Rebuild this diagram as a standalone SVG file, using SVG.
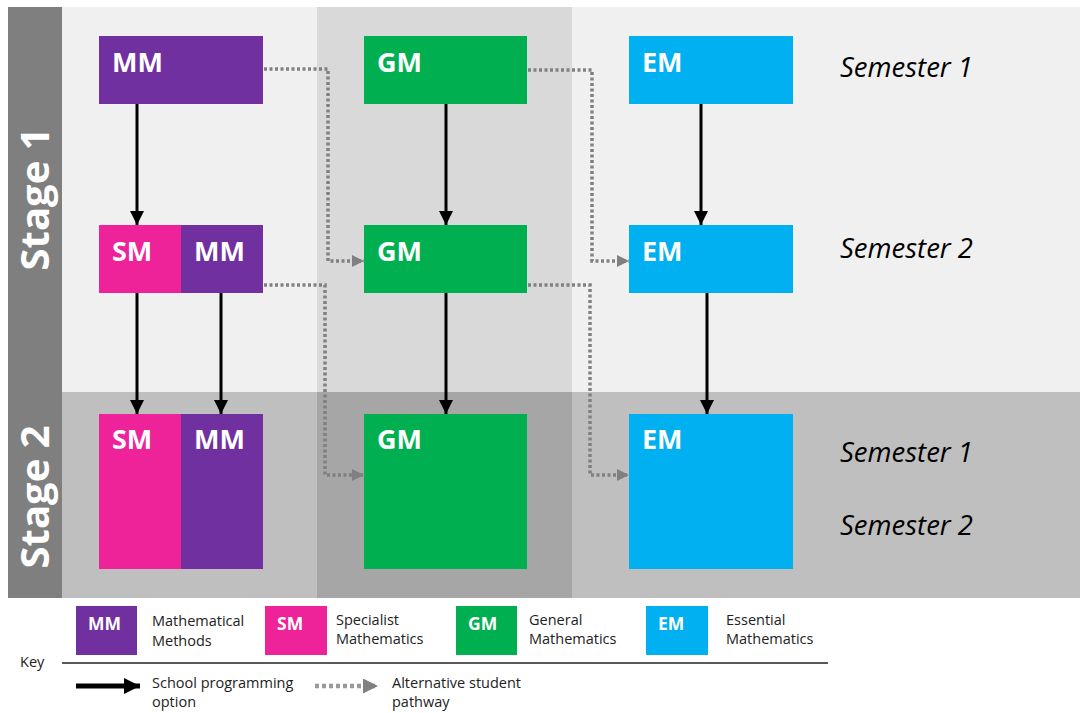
<svg xmlns="http://www.w3.org/2000/svg" width="1080" height="713" viewBox="0 0 1080 713">
<style>
.lbl{font-family:"Open Sans","Liberation Sans",sans-serif;font-weight:bold;font-size:27px;fill:#ffffff}
.klbl{font-family:"Open Sans","Liberation Sans",sans-serif;font-weight:bold;font-size:17.5px;fill:#ffffff}
.sem{font-family:"Open Sans","Liberation Sans",sans-serif;font-style:italic;font-size:27.5px;fill:#000000}
.stage{font-family:"Open Sans","Liberation Sans",sans-serif;font-weight:bold;font-size:40px;fill:#ffffff}
.key{font-family:"Open Sans","Liberation Sans",sans-serif;font-size:14.5px;fill:#222222}
.solid{stroke:#000000;stroke-width:3;fill:none}
.dot{stroke:#808080;stroke-width:3.5;fill:none;stroke-dasharray:3 2.5}
.mm{fill:#7030a0}.sm{fill:#ee2299}.gm{fill:#00b050}.em{fill:#00b0f0}
</style>
<defs>
<marker id="ab" markerUnits="userSpaceOnUse" markerWidth="14" markerHeight="14" refX="14" refY="7" orient="auto"><path d="M0,0 L14,7 L0,14 z" fill="#000000"/></marker>
<marker id="ab2" markerUnits="userSpaceOnUse" markerWidth="16" markerHeight="16" refX="16" refY="8" orient="auto"><path d="M0,0 L16,8 L0,16 z" fill="#000000"/></marker>
<marker id="ag" markerUnits="userSpaceOnUse" markerWidth="12" markerHeight="12" refX="12" refY="6" orient="auto"><path d="M0,0 L12,6 L0,12 z" fill="#808080"/></marker>
<marker id="ag2" markerUnits="userSpaceOnUse" markerWidth="15" markerHeight="15" refX="15" refY="7.5" orient="auto"><path d="M0,0 L15,7.5 L0,15 z" fill="#808080"/></marker>
</defs>
<rect x="0" y="0" width="1080" height="713" fill="#ffffff"/>
<g id="background">
<rect x="62" y="7" width="1018" height="385" fill="#f0f0f0"/>
<rect x="317" y="7" width="255" height="385" fill="#d9d9d9"/>
<rect x="62" y="392" width="1018" height="206" fill="#bfbfbf"/>
<rect x="317" y="392" width="255" height="206" fill="#a6a6a6"/>
<rect x="8" y="7" width="54" height="591" fill="#7f7f7f"/>
<text class="stage" transform="translate(49,199) rotate(-90)" text-anchor="middle">Stage 1</text>
<text class="stage" transform="translate(49,497) rotate(-90)" text-anchor="middle">Stage 2</text>
</g>
<g id="semesters">
<text class="sem" x="840" y="77">Semester 1</text>
<text class="sem" x="840" y="258">Semester 2</text>
<text class="sem" x="840" y="462">Semester 1</text>
<text class="sem" x="840" y="535">Semester 2</text>
</g>
<g id="mm1"><rect class="mm" x="99" y="36" width="164" height="68"/><text class="lbl" x="112" y="72">MM</text></g>
<g id="gm1"><rect class="gm" x="364" y="36" width="163" height="68"/><text class="lbl" x="377" y="72">GM</text></g>
<g id="em1"><rect class="em" x="629" y="36" width="164" height="68"/><text class="lbl" x="642" y="72">EM</text></g>
<g id="sm2"><rect class="sm" x="99" y="225" width="82" height="68"/><text class="lbl" x="112" y="261">SM</text></g>
<g id="mm2"><rect class="mm" x="181" y="225" width="82" height="68"/><text class="lbl" x="194" y="261">MM</text></g>
<g id="gm2"><rect class="gm" x="364" y="225" width="163" height="68"/><text class="lbl" x="377" y="261">GM</text></g>
<g id="em2"><rect class="em" x="629" y="225" width="164" height="68"/><text class="lbl" x="642" y="261">EM</text></g>
<g id="sm3"><rect class="sm" x="99" y="414" width="82" height="155"/><text class="lbl" x="112" y="449">SM</text></g>
<g id="mm3"><rect class="mm" x="181" y="414" width="82" height="155"/><text class="lbl" x="194" y="449">MM</text></g>
<g id="gm3"><rect class="gm" x="364" y="414" width="163" height="155"/><text class="lbl" x="377" y="449">GM</text></g>
<g id="em3"><rect class="em" x="629" y="414" width="164" height="155"/><text class="lbl" x="642" y="449">EM</text></g>
<g id="connectors">
<line class="solid" x1="137" y1="104" x2="137" y2="225" marker-end="url(#ab)"/>
<line class="solid" x1="446" y1="104" x2="446" y2="225" marker-end="url(#ab)"/>
<line class="solid" x1="701" y1="104" x2="701" y2="225" marker-end="url(#ab)"/>
<line class="solid" x1="137" y1="293" x2="137" y2="414" marker-end="url(#ab)"/>
<line class="solid" x1="221" y1="293" x2="221" y2="414" marker-end="url(#ab)"/>
<line class="solid" x1="446" y1="293" x2="446" y2="414" marker-end="url(#ab)"/>
<line class="solid" x1="707" y1="293" x2="707" y2="414" marker-end="url(#ab)"/>
<polyline class="dot" points="264,69 328,69 328,261 364,261" marker-end="url(#ag)"/>
<polyline class="dot" points="528,70 592,70 592,261 629,261" marker-end="url(#ag)"/>
<polyline class="dot" points="264,285 325,285 325,475 364,475" marker-end="url(#ag)"/>
<polyline class="dot" points="528,285 590,285 590,475 629,475" marker-end="url(#ag)"/>
</g>
<g id="legend">
<rect class="mm" x="76" y="606" width="61" height="49"/><text class="klbl" x="88" y="630">MM</text>
<text class="key" x="152" y="626">Mathematical</text><text class="key" x="152" y="646">Methods</text>
<rect class="sm" x="265" y="606" width="62" height="49"/><text class="klbl" x="277" y="630">SM</text>
<text class="key" x="336" y="625">Specialist</text><text class="key" x="336" y="644">Mathematics</text>
<rect class="gm" x="456" y="606" width="61" height="49"/><text class="klbl" x="468" y="630">GM</text>
<text class="key" x="529" y="625">General</text><text class="key" x="529" y="644">Mathematics</text>
<rect class="em" x="646" y="606" width="62" height="49"/><text class="klbl" x="658" y="630">EM</text>
<text class="key" x="726" y="625">Essential</text><text class="key" x="726" y="644">Mathematics</text>
<line x1="62" y1="663" x2="828" y2="663" stroke="#595959" stroke-width="2"/>
<text class="key" x="20" y="667">Key</text>
<line x1="76" y1="686" x2="140" y2="686" stroke="#000000" stroke-width="5" marker-end="url(#ab2)"/>
<text class="key" x="152" y="688">School programming</text><text class="key" x="152" y="707">option</text>
<line x1="315" y1="686" x2="378" y2="686" stroke="#999999" stroke-width="4.5" stroke-dasharray="4 3" marker-end="url(#ag2)"/>
<text class="key" x="392" y="688">Alternative student</text><text class="key" x="392" y="707">pathway</text>
</g>
</svg>
